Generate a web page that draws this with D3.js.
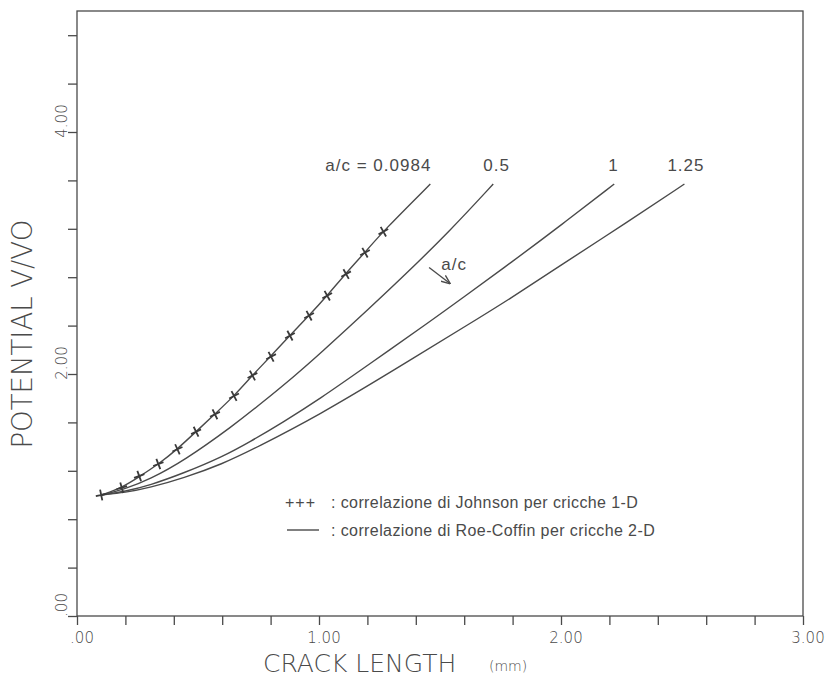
<!DOCTYPE html>
<html>
<head>
<meta charset="utf-8">
<script src="https://cdn.jsdelivr.net/npm/d3@7/dist/d3.min.js"></script>
<style>
  body { margin: 0; background: #ffffff; }
  text { fill: #4a4a4a; }
</style>
</head>
<body>
<svg id="main" width="835" height="695"></svg>
<script>
const margin = { top: 11, right: 32, bottom: 79, left: 77 };
const width = 835 - margin.left - margin.right;
const height = 695 - margin.top - margin.bottom;
const ink = '#4a4a4a';

// curve names (a/c ratio) and their Roe-Coffin curves [crack length mm, V/V0]
const ratios = ['a/c = 0.0984', '0.5', '1', '1.25'];
const curve0984 = [[0.10, 1.00], [0.185, 1.06], [0.26, 1.155], [0.34, 1.26], [0.415, 1.38], [0.49, 1.52],
    [0.57, 1.67], [0.65, 1.82], [0.725, 1.99], [0.80, 2.145], [0.88, 2.32], [0.96, 2.485],
    [1.035, 2.65], [1.11, 2.83], [1.19, 3.005], [1.265, 3.18], [1.46, 3.57]];
const curve05 = [[0.10, 1.00], [0.20, 1.05], [0.30, 1.13], [0.44, 1.28], [0.65, 1.58], [0.76, 1.755],
    [0.90, 1.985], [1.00, 2.16], [1.22, 2.565], [1.34, 2.79], [1.54, 3.18], [1.72, 3.57]];
const curve1 = [[0.10, 1.00], [0.20, 1.03], [0.30, 1.08], [0.44, 1.18], [0.60, 1.315], [0.715, 1.44],
    [0.85, 1.60], [1.00, 1.79], [1.20, 2.07], [1.47, 2.45], [1.58, 2.61], [1.80, 2.93],
    [2.00, 3.23], [2.22, 3.57]];
const curve125 = [[0.10, 1.00], [0.20, 1.02], [0.30, 1.06], [0.44, 1.14], [0.60, 1.255], [0.74, 1.39],
    [1.00, 1.66], [1.30, 2.02], [1.65, 2.45], [1.78, 2.61], [2.00, 2.90], [2.27, 3.25], [2.51, 3.57]];

// Johnson correlation (1-D cracks)
const johnsonX = [0.10, 0.185, 0.257, 0.336, 0.415, 0.492, 0.57, 0.649, 0.725, 0.802, 0.88, 0.959, 1.034, 1.112, 1.19, 1.266];
const johnsonY = [1.00, 1.06, 1.157, 1.256, 1.378, 1.523, 1.667, 1.818, 1.988, 2.143, 2.317, 2.482, 2.647, 2.826, 3.003, 3.176];

const xTickLabels = [0, 1, 2, 3];
const yTickLabels = [0, 2, 4];
const legendText = ['correlazione di Johnson per cricche 1-D', 'correlazione di Roe-Coffin per cricche 2-D'];

const svg = d3.select('#main');
svg.append('rect').attr('width', 835).attr('height', 695).attr('fill', '#ffffff');

const g = svg.append('g').attr('transform', `translate(${margin.left},${margin.top})`);

const x = d3.scaleLinear().domain([0, 3]).range([0, width]);
const y = d3.scaleLinear().domain([0, 5]).range([height, 0]);

const fmt = v => d3.format('.2f')(v).replace(/^0/, '');

// frame
g.append('rect')
    .attr('width', width).attr('height', height)
    .attr('fill', 'none').attr('stroke', ink).attr('stroke-width', 1.3);

// axes (ticks every 0.2 on x, 0.4 on y)
const xAxis = g.append('g')
    .attr('transform', `translate(0,${height})`)
    .call(d3.axisBottom(x).tickValues(d3.range(0, 15.5).map(i => i * 0.2)).tickSize(9).tickFormat(''));
const yAxis = g.append('g')
    .call(d3.axisLeft(y).tickValues(d3.range(0, 12.5).map(i => i * 0.4)).tickSize(9).tickFormat(''));
[xAxis, yAxis].forEach(a => {
    a.select('.domain').remove();
    a.selectAll('line').attr('stroke', ink).attr('stroke-width', 1.3);
});

const plotFont = "'DejaVu Sans', sans-serif";

g.selectAll('.xlab')
    .data(xTickLabels)
    .enter().append('text')
    .attr('x', d => x(d) + 5)
    .attr('y', height + 27)
    .attr('text-anchor', 'middle')
    .style('font-family', plotFont).style('font-weight', 200).style('font-size', '15px')
    .text(fmt);

g.selectAll('.ylab')
    .data(yTickLabels)
    .enter().append('text')
    .attr('transform', d => `translate(-10,${y(d) - 11}) rotate(-90)`)
    .attr('text-anchor', 'middle')
    .style('font-family', plotFont).style('font-weight', 200).style('font-size', '15px')
    .text(fmt);

// axis titles
svg.append('text')
    .attr('transform', `translate(32,${margin.top + y(2.33)}) rotate(-90)`)
    .attr('text-anchor', 'middle')
    .style('font-family', plotFont).style('font-weight', 200).style('font-size', '27.5px')
    .text('POTENTIAL V/VO');

svg.append('text')
    .attr('x', 263).attr('y', 672)
    .style('font-family', plotFont).style('font-weight', 200).style('font-size', '25px')
    .text('CRACK LENGTH');
svg.append('text')
    .attr('x', 489).attr('y', 671)
    .style('font-family', plotFont).style('font-weight', 200).style('font-size', '14px')
    .text('(mm)');

// curves
const line = d3.line()
    .x(d => x(d[0]))
    .y(d => y(d[1]))
    .curve(d3.curveBasis);

const curves = [curve0984, curve05, curve1, curve125];
g.selectAll('.curve')
    .data(curves)
    .enter().append('path')
    .attr('class', 'curve')
    .attr('d', line)
    .attr('fill', 'none')
    .attr('stroke', ink)
    .attr('stroke-width', 1.4);

// curve labels, placed from the curve end
const labelDx = [-105, -10, -6, -17];
g.selectAll('.clab')
    .data(curves)
    .enter().append('text')
    .attr('x', (d, i) => x(d[d.length - 1][0]) + labelDx[i])
    .attr('y', d => y(d[d.length - 1][1]) - 13)
    .style('font-family', "'Liberation Sans', Arial, sans-serif")
    .style('font-size', '17px')
    .style('letter-spacing', '1px')
    .text((d, i) => ratios[i]);

// Johnson points as "+" turned along the curve
const johnson = johnsonX.map((v, i) => [v, johnsonY[i]]);
g.selectAll('.plus')
    .data(johnson)
    .enter().append('path')
    .attr('d', 'M-5.5,0H5.5M0,-5.5V5.5')
    .attr('stroke', '#3a3a3a')
    .attr('stroke-width', 1.8)
    .attr('transform', (d, i) => {
        const a = johnson[Math.max(i - 1, 0)], b = johnson[Math.min(i + 1, johnson.length - 1)];
        const ang = Math.atan2(y(b[1]) - y(a[1]), x(b[0]) - x(a[0])) * 180 / Math.PI;
        return `translate(${x(d[0])},${y(d[1])}) rotate(${ang * 0.6})`;
    });

// a/c arrow
const defs = svg.append('defs');
defs.append('marker')
    .attr('id', 'arr').attr('viewBox', '0 0 10 10').attr('refX', 9).attr('refY', 5)
    .attr('markerWidth', 7).attr('markerHeight', 7).attr('orient', 'auto')
    .append('path').attr('d', 'M0,1L10,5L0,9').attr('fill', 'none').attr('stroke', ink).attr('stroke-width', 1.5);

g.append('line')
    .attr('x1', x(1.455)).attr('y1', y(2.88))
    .attr('x2', x(1.54)).attr('y2', y(2.75))
    .attr('stroke', ink).attr('stroke-width', 1.3)
    .attr('marker-end', 'url(#arr)');
g.append('text')
    .attr('x', x(1.505)).attr('y', y(2.86))
    .style('font-family', "'Liberation Sans', Arial, sans-serif")
    .style('font-size', '17px')
    .style('letter-spacing', '1px')
    .text('a/c');

// legend
const legend = svg.append('g').attr('transform', 'translate(285,0)');
legend.append('text')
    .attr('x', 0).attr('y', 508)
    .style('font-family', "'Liberation Sans', Arial, sans-serif")
    .style('font-size', '16px')
    .style('letter-spacing', '1px')
    .text('+++');
legend.append('line')
    .attr('x1', 2).attr('x2', 34).attr('y1', 530).attr('y2', 530)
    .attr('stroke', ink).attr('stroke-width', 1.4);
legend.selectAll('.ltext')
    .data(legendText)
    .enter().append('text')
    .attr('x', 46)
    .attr('y', (d, i) => 508 + i * 28)
    .style('font-family', "'Liberation Sans', Arial, sans-serif")
    .style('font-size', '16px')
    .style('letter-spacing', '0.4px')
    .text(d => ': ' + d);
</script>
</body>
</html>
